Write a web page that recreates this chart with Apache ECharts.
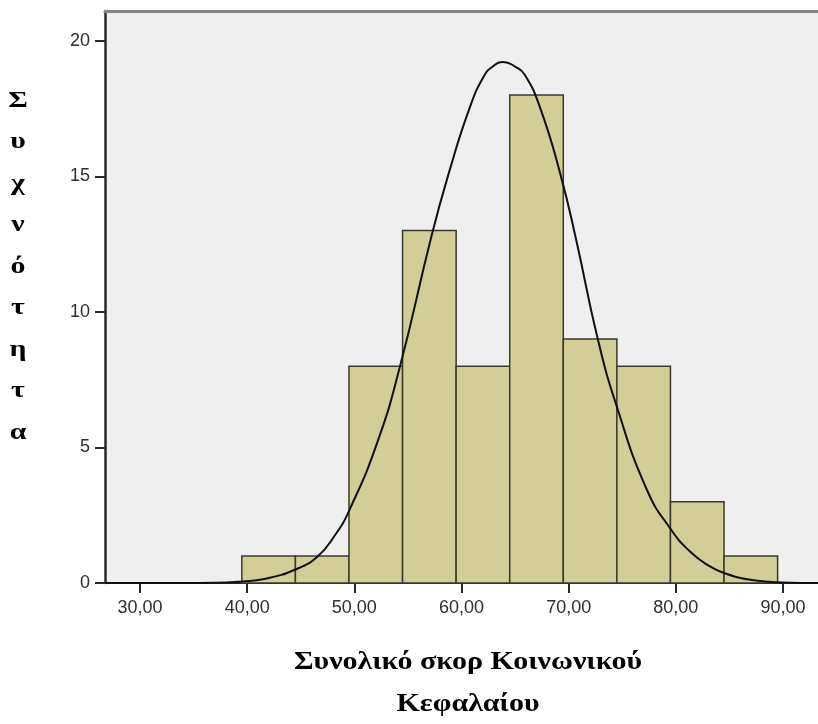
<!DOCTYPE html>
<html>
<head>
<meta charset="utf-8">
<script src="https://cdn.jsdelivr.net/npm/echarts@6/dist/echarts.min.js"></script>
<style>
  html, body { margin: 0; padding: 0; background: #ffffff; }
  #chart { width: 818px; height: 724px; }
</style>
</head>
<body>
<div id="chart"></div>
<script>
// Histogram bins (score ranges) and frequencies
const binStart = [39.5, 44.5, 49.5, 54.5, 59.5, 64.5, 69.5, 74.5, 79.5, 84.5];
const binEnd   = [44.5, 49.5, 54.5, 59.5, 64.5, 69.5, 74.5, 79.5, 84.5, 89.5];
const counts   = [1, 1, 8, 13, 8, 18, 9, 8, 3, 1];

// Fitted normal curve, sampled points (score, frequency)
const curveX = [26.73, 34, 37, 39.5, 41.6, 44.45, 46.57, 48.22, 49.55, 52.2, 54.3, 57.2, 58.8, 60.8, 62.1, 62.9, 63.9,
                65.0, 65.9, 67.3, 69.2, 70.7, 72.7, 74.5, 77.3, 79.5, 81.3, 82.95, 84.5, 87.25, 90, 93.27];
const curveY = [0, 0, 0.01, 0.06, 0.15, 0.49, 0.98, 1.78, 2.7, 5.25, 8.05, 12.8, 15.1, 17.57, 18.7, 19.05, 19.22,
                19.05, 18.75, 17.57, 15.12, 12.66, 9.03, 6.5, 3.44, 2.0, 1.17, 0.67, 0.37, 0.1, 0.02, 0];

// Axis ticks
const xTicks = [30, 40, 50, 60, 70, 80, 90];
const yTicks = [0, 5, 10, 15, 20];

const yTitle = 'Συχνότητα';
const xTitle = 'Συνολικό σκορ Κοινωνικού\nΚεφαλαίου';

const chart = echarts.init(document.getElementById('chart'), null, { renderer: 'canvas' });

const barData = counts.map((c, i) => [binStart[i], binEnd[i], c]);
const curveData = curveX.map((x, i) => [x, curveY[i]]);

const tickFont = { fontFamily: 'Liberation Sans, Arial, sans-serif', fontSize: 18, color: '#2e2e2e' };

chart.setOption({
  backgroundColor: '#ffffff',
  animation: false,
  grid: {
    left: 105, top: 11, right: -6, bottom: 141,
    show: true, backgroundColor: '#efefef', borderWidth: 0
  },
  xAxis: [{
    type: 'value', min: 26.73, max: 93.27,
    axisLine: { show: true, onZero: false, lineStyle: { color: '#2a2a2a', width: 2 } },
    axisTick: { show: true, customValues: xTicks, length: 10, lineStyle: { color: '#2a2a2a', width: 2 } },
    axisLabel: Object.assign({ customValues: xTicks, margin: 16,
      formatter: v => v.toFixed(2).replace('.', ',') }, tickFont),
    splitLine: { show: false }
  }, {
    type: 'value', position: 'top', min: 26.73, max: 93.27,
    axisLine: { show: true, onZero: false, lineStyle: { color: '#858585', width: 3 } },
    axisTick: { show: false }, axisLabel: { show: false }, splitLine: { show: false }
  }],
  yAxis: {
    type: 'value', min: 0, max: 21.1,
    axisLine: { show: true, onZero: false, lineStyle: { color: '#2a2a2a', width: 2.5 } },
    axisTick: { show: true, customValues: yTicks, length: 10, lineStyle: { color: '#2a2a2a', width: 2 } },
    axisLabel: Object.assign({ customValues: yTicks, margin: 15 }, tickFont),
    splitLine: { show: false }
  },
  series: [{
    type: 'custom',
    xAxisIndex: 0,
    data: barData,
    renderItem: function (params, api) {
      const p0 = api.coord([api.value(0), api.value(2)]);
      const p1 = api.coord([api.value(1), 0]);
      return {
        type: 'rect',
        shape: { x: p0[0], y: p0[1], width: p1[0] - p0[0], height: p1[1] - p0[1] },
        style: { fill: '#d3ce97', stroke: '#3a3a2c', lineWidth: 1.5 }
      };
    },
    z: 2
  }, {
    type: 'line',
    xAxisIndex: 0,
    data: curveData,
    smooth: 0.5,
    showSymbol: false,
    lineStyle: { color: '#111111', width: 2 },
    z: 3
  }],
  graphic: [{
    type: 'text',
    x: 18, y: 80,
    scaleX: 1.3,
    style: {
      text: yTitle.split('').join('\n'),
      font: 'bold 23px "Liberation Serif", "Times New Roman", serif',
      fill: '#000000',
      lineHeight: 41.5,
      align: 'center'
    }
  }, {
    type: 'text',
    x: 468, y: 642,
    scaleX: 1.2,
    style: {
      text: xTitle,
      font: 'bold 25px "Liberation Serif", "Times New Roman", serif',
      fill: '#000000',
      lineHeight: 42,
      align: 'center'
    }
  }]
});
</script>
</body>
</html>
